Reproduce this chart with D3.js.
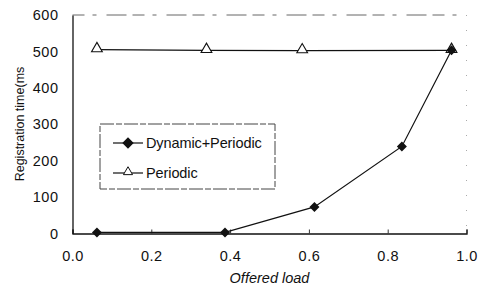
<!DOCTYPE html>
<html>
<head>
<meta charset="utf-8">
<style>
body { margin: 0; background: #fff; }
svg text { font-family: "Liberation Sans", Arial, sans-serif; fill: #111; }
</style>
</head>
<body>
<svg width="486" height="285"></svg>
<script src="https://d3js.org/d3.v7.min.js"></script>
<script>
// values
var loadDyn = [0.062, 0.387, 0.614, 0.836, 0.962];
var timeDyn = [3, 3, 73, 239, 503];
var loadPer = [0.062, 0.34, 0.583, 0.962];
var timePer = [505, 503, 502, 503];
var xTicks = [0, 0.2, 0.4, 0.6, 0.8, 1.0];
var yTicks = [0, 100, 200, 300, 400, 500, 600];

var svg = d3.select("svg"),
    margin = {top: 15, right: 19.5, bottom: 51.5, left: 72.5},
    width = +svg.attr("width") - margin.left - margin.right,
    height = +svg.attr("height") - margin.top - margin.bottom,
    g = svg.append("g").attr("transform", "translate(" + margin.left + "," + margin.top + ")");

var x = d3.scaleLinear().domain([0, 1]).range([0, width]);
var y = d3.scaleLinear().domain([0, 600]).range([height, 0]);

// top and right frame, faint like the scan
g.append("line").attr("x1", 0).attr("x2", width).attr("y1", 0).attr("y2", 0)
    .attr("stroke", "#666").attr("stroke-width", 1).attr("stroke-dasharray", "12,8,4,10,20,6");
g.append("line").attr("x1", width).attr("x2", width).attr("y1", 0).attr("y2", height)
    .attr("stroke", "#aaa").attr("stroke-width", 1).attr("stroke-dasharray", "1,14");

var xAxis = g.append("g")
    .attr("transform", "translate(0," + height + ")")
    .call(d3.axisBottom(x).tickValues(xTicks).tickSize(-4).tickPadding(17).tickFormat(d3.format(".1f")));
var yAxis = g.append("g")
    .call(d3.axisLeft(y).tickValues(yTicks).tickSize(0).tickPadding(14));

[xAxis, yAxis].forEach(function(a) {
  a.select(".domain").attr("stroke", "#111").attr("stroke-width", 1.3);
  a.selectAll(".tick line").attr("stroke", "#333");
  a.selectAll("text").attr("font-size", 14.5).attr("fill", "#111")
    .attr("letter-spacing", 0.5)
    .style("font-family", "'Liberation Sans', Arial, sans-serif");
});

svg.append("text")
    .attr("transform", "translate(24,124) rotate(-90)")
    .attr("text-anchor", "middle")
    .attr("font-size", 12.5)
    .text("Registration time(ms");

svg.append("text")
    .attr("x", margin.left + width / 2)
    .attr("y", 283)
    .attr("text-anchor", "middle")
    .attr("font-size", 14.5)
    .attr("font-style", "italic")
    .text("Offered load");

var line = d3.line().x(function(d) { return x(d[0]); }).y(function(d) { return y(d[1]); });
var per = d3.zip(loadPer, timePer);
var dyn = d3.zip(loadDyn, timeDyn);

g.append("path").datum(per).attr("d", line)
    .attr("fill", "none").attr("stroke", "#111").attr("stroke-width", 1.2);
g.append("path").datum(dyn).attr("d", line)
    .attr("fill", "none").attr("stroke", "#111").attr("stroke-width", 1.2);

var tri = d3.symbol().type(d3.symbolTriangle).size(50)();
var dia = d3.symbol().type(d3.symbolSquare).size(50)();

g.selectAll(".tri").data(per).enter().append("path")
    .attr("class", "tri")
    .attr("transform", function(d) { return "translate(" + x(d[0]) + "," + (y(d[1]) - 1) + ")"; })
    .attr("d", tri).attr("fill", "#fff").attr("stroke", "#111").attr("stroke-width", 1.1);
g.selectAll(".dia").data(dyn).enter().append("path")
    .attr("class", "dia")
    .attr("transform", function(d) { return "translate(" + x(d[0]) + "," + y(d[1]) + ") rotate(45)"; })
    .attr("d", dia).attr("fill", "#111");

// legend
var legend = svg.append("g").attr("transform", "translate(100,124)");
legend.append("rect").attr("x", 0).attr("y", 0).attr("width", 175).attr("height", 65)
    .attr("fill", "#fff").attr("stroke", "#444").attr("stroke-width", 1)
    .attr("stroke-dasharray", "14,2,6,2");
var legTri = d3.symbol().type(d3.symbolTriangle).size(36)();
var items = [{name: "Dynamic+Periodic", sym: dia, fill: "#111", rot: 45, yy: 19},
             {name: "Periodic", sym: legTri, fill: "#fff", rot: 0, yy: 49}];
var li = legend.selectAll(".item").data(items).enter().append("g")
    .attr("transform", function(d) { return "translate(0," + d.yy + ")"; });
li.append("line").attr("x1", 13).attr("x2", 43).attr("stroke", "#111").attr("stroke-width", 1.2);
li.append("path")
    .attr("transform", function(d) { return "translate(28," + (d.rot ? 0 : -1) + ") rotate(" + d.rot + ")"; })
    .attr("d", function(d) { return d.sym; })
    .attr("fill", function(d) { return d.fill; }).attr("stroke", "#111").attr("stroke-width", 1);
li.append("text").attr("x", 46).attr("dy", "0.35em").attr("font-size", 14.5)
    .attr("letter-spacing", -0.1)
    .text(function(d) { return d.name; });
</script>
</body>
</html>
